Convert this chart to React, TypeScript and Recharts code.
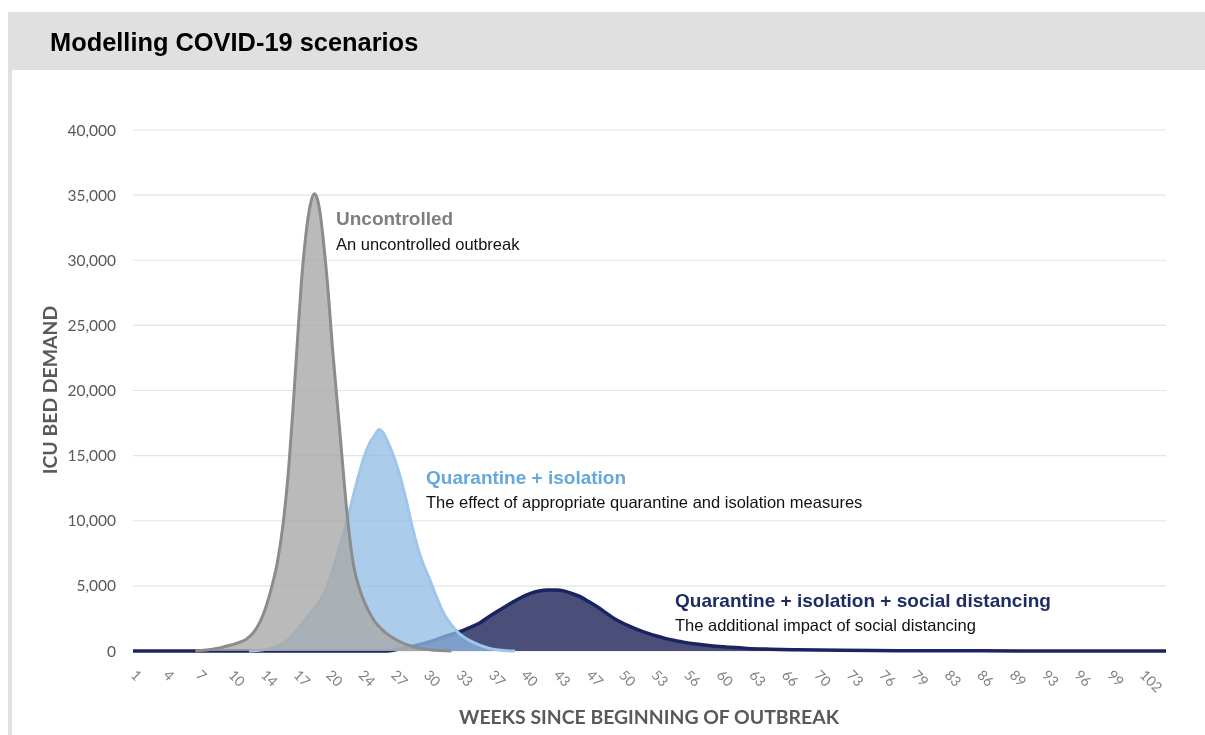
import { AreaChart, Area, XAxis, YAxis, CartesianGrid } from "recharts";

// x is days since the start; axis labels show the week number
const TICK_DAYS = [
  0, 23, 46, 69, 92, 115, 138, 161, 184, 207, 230, 253, 276, 299, 322, 345,
  368, 391, 414, 437, 460, 483, 506, 529, 552, 575, 598, 621, 644, 667, 690, 713,
];
const WEEK_LABELS = [
  "1", "4", "7", "10", "14", "17", "20", "24", "27", "30", "33", "37", "40", "43", "47", "50",
  "53", "56", "60", "63", "66", "70", "73", "76", "79", "83", "86", "89", "93", "96", "99", "102",
];
const Y_TICKS = [0, 5000, 10000, 15000, 20000, 25000, 30000, 35000, 40000];

const uncontrolled = [
  { day: 44, icu: 0 }, { day: 50, icu: 60 }, { day: 56, icu: 140 }, { day: 62, icu: 260 },
  { day: 68, icu: 420 }, { day: 74, icu: 620 }, { day: 80, icu: 900 }, { day: 85, icu: 1400 },
  { day: 90, icu: 2300 }, { day: 94, icu: 3400 }, { day: 98, icu: 4900 }, { day: 102, icu: 6800 },
  { day: 106, icu: 9700 }, { day: 110, icu: 14000 }, { day: 113, icu: 18500 }, { day: 116, icu: 23500 },
  { day: 119, icu: 28300 }, { day: 122, icu: 31800 }, { day: 125, icu: 34100 }, { day: 128, icu: 35100 },
  { day: 130, icu: 34800 }, { day: 132, icu: 33800 }, { day: 135, icu: 31000 }, { day: 138, icu: 27500 },
  { day: 141, icu: 23200 }, { day: 144, icu: 19500 }, { day: 147, icu: 15800 }, { day: 150, icu: 12000 },
  { day: 153, icu: 8800 }, { day: 156, icu: 6500 }, { day: 160, icu: 4800 }, { day: 165, icu: 3400 },
  { day: 170, icu: 2400 }, { day: 178, icu: 1450 }, { day: 188, icu: 750 }, { day: 198, icu: 330 },
  { day: 210, icu: 100 }, { day: 225, icu: 0 },
];

const quarantine = [
  { day: 82, icu: 0 }, { day: 95, icu: 150 }, { day: 102, icu: 350 }, { day: 110, icu: 900 },
  { day: 118, icu: 1870 }, { day: 126, icu: 3000 }, { day: 134, icu: 4200 }, { day: 140, icu: 5800 },
  { day: 146, icu: 8000 }, { day: 151, icu: 9900 }, { day: 155, icu: 11600 }, { day: 159, icu: 13300 },
  { day: 163, icu: 14800 }, { day: 167, icu: 15900 }, { day: 171, icu: 16600 }, { day: 174, icu: 17000 },
  { day: 177, icu: 16700 }, { day: 181, icu: 15800 }, { day: 185, icu: 14700 }, { day: 189, icu: 13300 },
  { day: 193, icu: 11600 }, { day: 197, icu: 9700 }, { day: 201, icu: 8000 }, { day: 205, icu: 6700 },
  { day: 210, icu: 5400 }, { day: 215, icu: 4000 }, { day: 220, icu: 2800 }, { day: 225, icu: 2000 },
  { day: 231, icu: 1300 }, { day: 238, icu: 800 }, { day: 245, icu: 450 }, { day: 252, icu: 200 },
  { day: 260, icu: 60 }, { day: 270, icu: 0 },
];

const distancing = [
  { day: 0, icu: 0 }, { day: 180, icu: 0 }, { day: 190, icu: 200 }, { day: 200, icu: 420 },
  { day: 210, icu: 720 }, { day: 220, icu: 1100 }, { day: 231, icu: 1480 }, { day: 238, icu: 1800 },
  { day: 245, icu: 2150 }, { day: 251, icu: 2600 }, { day: 257, icu: 3020 }, { day: 263, icu: 3400 },
  { day: 269, icu: 3790 }, { day: 275, icu: 4150 }, { day: 281, icu: 4430 }, { day: 287, icu: 4600 },
  { day: 293, icu: 4680 }, { day: 299, icu: 4690 }, { day: 305, icu: 4600 }, { day: 310, icu: 4420 },
  { day: 316, icu: 4170 }, { day: 322, icu: 3800 }, { day: 328, icu: 3400 }, { day: 334, icu: 2950 },
  { day: 340, icu: 2500 }, { day: 346, icu: 2150 }, { day: 352, icu: 1850 }, { day: 358, icu: 1580 },
  { day: 364, icu: 1350 }, { day: 370, icu: 1150 }, { day: 376, icu: 970 }, { day: 382, icu: 820 },
  { day: 388, icu: 700 }, { day: 398, icu: 530 }, { day: 410, icu: 380 }, { day: 422, icu: 280 },
  { day: 434, icu: 200 }, { day: 450, icu: 140 }, { day: 470, icu: 90 }, { day: 500, icu: 50 },
  { day: 540, icu: 25 }, { day: 600, icu: 10 }, { day: 650, icu: 0 }, { day: 730, icu: 0 },
];

const W = 1197;
const H = 719;
const HEAD = "'Liberation Sans', Arial, sans-serif";
const AXIS = "Lato, 'Open Sans', sans-serif";

function WeekTick(props: any) {
  const { x, y, payload } = props;
  const i = TICK_DAYS.indexOf(payload.value);
  const tx = x - 3;
  const ty = y + 25;
  return (
    <text x={tx} y={ty} transform={`rotate(45 ${tx} ${ty})`} textAnchor="start"
      fill="#808080" fontSize={14} fontFamily={AXIS}>
      {WEEK_LABELS[i]}
    </text>
  );
}

export default function App() {
  return (
    <div style={{ position: "relative", width: W, height: H, background: "#fff" }}>
      {/* page frame: grey header band and thin left border */}
      <div style={{ position: "fixed", left: 8, right: 0, top: 12, height: 58, background: "#e0e0e0" }} />
      <div style={{ position: "fixed", left: 8, top: 70, bottom: 0, width: 4, background: "#e0e0e0" }} />

      <div style={{ position: "absolute", left: 0, top: 0 }}>
        <AreaChart width={W} height={H} margin={{ top: 122, right: 39, bottom: 24, left: 0 }}>
          <CartesianGrid vertical={false} stroke="#e4e4e4" strokeWidth={1.2} />
          <XAxis dataKey="day" type="number" domain={[0, 730]} ticks={TICK_DAYS}
            allowDataOverflow axisLine={false} tickLine={false} tickSize={0} tickMargin={0}
            height={52} interval={0} tick={<WeekTick />} />
          <YAxis type="number" domain={[0, 40000]} ticks={Y_TICKS} width={125}
            axisLine={false} tickLine={false} tickSize={0} tickMargin={17}
            tickFormatter={(v: number) => v.toLocaleString("en-US")}
            tick={{ fill: "#595959", fontSize: 15.5, fontFamily: AXIS }} />
          <Area data={distancing} dataKey="icu" type="monotone" isAnimationActive={false}
            stroke="#1b2463" strokeWidth={3.5} fill="#4a4e78" fillOpacity={1} />
          <Area data={quarantine} dataKey="icu" type="monotone" isAnimationActive={false}
            stroke="#9ec6ea" strokeWidth={3} fill="#8fbbe4" fillOpacity={0.75} />
          <Area data={uncontrolled} dataKey="icu" type="monotone" isAnimationActive={false}
            stroke="#8c8c8c" strokeWidth={3} fill="#a9a9a9" fillOpacity={0.8} />
        </AreaChart>
      </div>

      <svg width={W} height={H} style={{ position: "absolute", left: 0, top: 0, pointerEvents: "none" }}>
        <text x={42} y={43} fontFamily={HEAD} fontWeight="bold" fontSize={25.4} fill="#000">
          Modelling COVID-19 scenarios
        </text>

        <text x={328} y={217} fontFamily={HEAD} fontWeight="bold" fontSize={19} fill="#7f7f7f">Uncontrolled</text>
        <text x={328} y={242} fontFamily={HEAD} fontSize={16.5} fill="#111">An uncontrolled outbreak</text>

        <text x={418} y={476} fontFamily={HEAD} fontWeight="bold" fontSize={19} fill="#64a8dc">Quarantine + isolation</text>
        <text x={418} y={500} fontFamily={HEAD} fontSize={16.5} fill="#111">
          The effect of appropriate quarantine and isolation measures
        </text>

        <text x={667} y={599} fontFamily={HEAD} fontWeight="bold" fontSize={19} fill="#1f2b63">
          Quarantine + isolation + social distancing
        </text>
        <text x={667} y={623} fontFamily={HEAD} fontSize={16.5} fill="#111">
          The additional impact of social distancing
        </text>

        <text x={49} y={382} transform="rotate(-90 49 382)" textAnchor="middle"
          fontFamily={AXIS} fontWeight="bold" fontSize={19.4} fill="#595959">
          ICU BED DEMAND
        </text>
        <text x={641} y={716} textAnchor="middle" fontFamily={AXIS} fontWeight="bold" fontSize={19.4} fill="#595959">
          WEEKS SINCE BEGINNING OF OUTBREAK
        </text>
      </svg>
    </div>
  );
}
